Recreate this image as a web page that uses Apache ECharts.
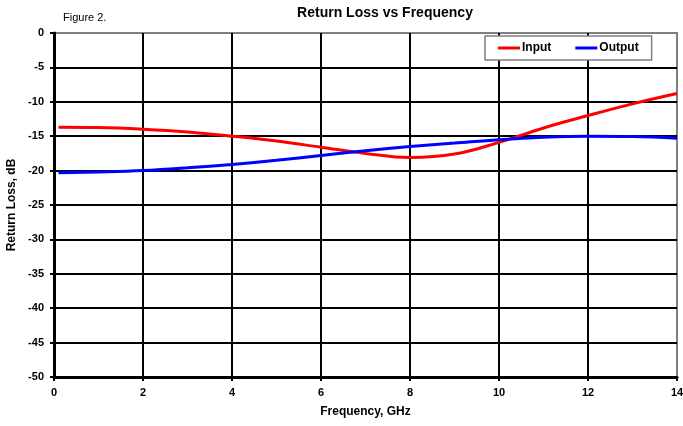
<!DOCTYPE html>
<html>
<head>
<meta charset="utf-8">
<script src="https://cdn.jsdelivr.net/npm/echarts@6/dist/echarts.min.js"></script>
<style>
html,body{margin:0;padding:0;background:#fff;}
#c{width:683px;height:426px;}
</style>
</head>
<body>
<div id="c"></div>
<script>
const freq = [0.1, 1, 2, 3, 4, 5, 6, 7, 8, 9, 10, 11, 12, 13, 14];
const inputLoss = [-13.7, -13.75, -14.0, -14.4, -15.0, -15.7, -16.6, -17.5, -18.1, -17.6, -15.9, -13.8, -12.0, -10.3, -8.8];
const outputLoss = [-20.3, -20.2, -20.0, -19.6, -19.1, -18.5, -17.8, -17.1, -16.5, -16.0, -15.5, -15.15, -15.0, -15.05, -15.3];
const seriesNames = ['Input', 'Output'];
const titleText = 'Return Loss vs Frequency';
const figureText = 'Figure 2.';
const xName = 'Frequency, GHz';
const yName = 'Return Loss, dB';

const font = 'Liberation Sans, Arial, sans-serif';
const chart = echarts.init(document.getElementById('c'));
const pair = (xs, ys) => xs.map((x, i) => [x, ys[i]]);

chart.setOption({
  animation: false,
  backgroundColor: '#fff',
  title: [
    {text: titleText, left: 380, top: 1, textAlign: 'center',
     textStyle: {fontFamily: font, fontSize: 14, fontWeight: 'bold', color: '#000'}},
    {text: figureText, left: 58, top: 7,
     textStyle: {fontFamily: font, fontSize: 11, fontWeight: 'normal', color: '#000'}}
  ],
  legend: {
    left: 485, top: 36,
    padding: [6, 13, 6, 13],
    borderColor: '#808080', borderWidth: 1.5, backgroundColor: '#fff',
    icon: 'rect', itemWidth: 22, itemHeight: 3, itemGap: 24,
    textStyle: {fontFamily: font, fontSize: 12, fontWeight: 'bold', color: '#000', padding: [0,0,0,-3]},
    data: seriesNames
  },
  grid: {left: 54, right: 6, top: 33, bottom: 49, show: true, borderColor: '#808080', borderWidth: 2,
         containLabel: false, outerBoundsMode: 'none'},
  xAxis: {
    type: 'value', min: 0, max: 14, interval: 2,
    name: xName, nameLocation: 'middle', nameGap: 29,
    nameTextStyle: {fontFamily: font, fontSize: 12, fontWeight: 'bold', color: '#000'},
    axisLine: {show: true, onZero: false, lineStyle: {color: '#000', width: 3}},
    axisTick: {show: true, length: 4, lineStyle: {color: '#000', width: 2}},
    axisLabel: {fontFamily: font, fontSize: 11, fontWeight: 'bold', color: '#000', margin: 10},
    splitLine: {show: true, showMinLine: false, showMaxLine: false, lineStyle: {color: '#000', width: 2}}
  },
  yAxis: {
    type: 'value', min: -50, max: 0, interval: 5,
    name: yName, nameLocation: 'middle', nameGap: 35, nameRotate: 90,
    nameTextStyle: {fontFamily: font, fontSize: 12, fontWeight: 'bold', color: '#000'},
    axisLine: {show: true, onZero: false, lineStyle: {color: '#000', width: 3}},
    axisTick: {show: true, length: 4, lineStyle: {color: '#000', width: 2}},
    axisLabel: {fontFamily: font, fontSize: 11, fontWeight: 'bold', color: '#000', margin: 10},
    splitLine: {show: true, showMinLine: false, showMaxLine: false, lineStyle: {color: '#000', width: 2}}
  },
  series: [
    {name: seriesNames[0], type: 'line', data: pair(freq, inputLoss), smooth: 0.4,
     showSymbol: false, symbol: 'none', lineStyle: {color: '#ff0000', width: 3}, itemStyle: {color: '#ff0000'}},
    {name: seriesNames[1], type: 'line', data: pair(freq, outputLoss), smooth: 0.4,
     showSymbol: false, symbol: 'none', lineStyle: {color: '#0000ff', width: 3}, itemStyle: {color: '#0000ff'}}
  ]
});
</script>
</body>
</html>
